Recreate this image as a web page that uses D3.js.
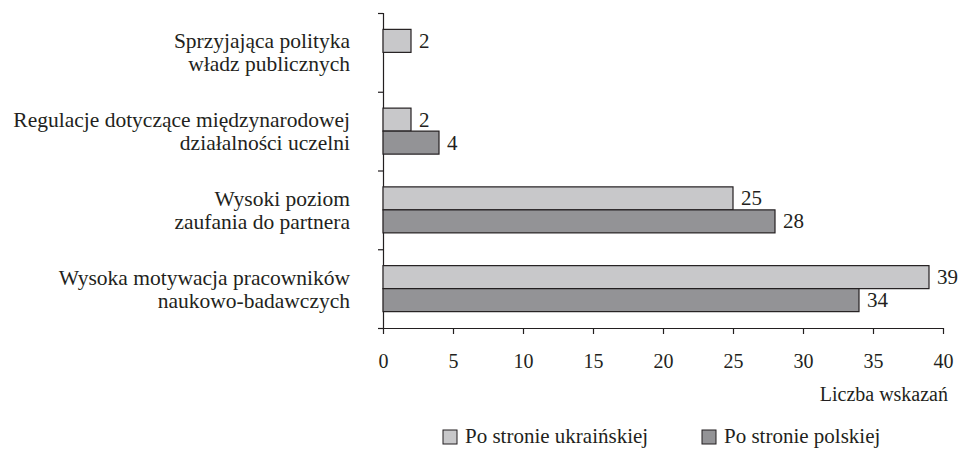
<!DOCTYPE html>
<html>
<head>
<meta charset="utf-8">
<script src="https://cdn.jsdelivr.net/npm/d3@7"></script>
<style>
  body { margin: 0; background: #fff; }
</style>
</head>
<body>
<svg id="canvas"></svg>
<script>
// data
let categories = [
  ['Sprzyjająca polityka', 'władz publicznych'],
  ['Regulacje dotyczące międzynarodowej', 'działalności uczelni'],
  ['Wysoki poziom', 'zaufania do partnera'],
  ['Wysoka motywacja pracowników', 'naukowo-badawczych']
]
let seriesNames = ['Po stronie ukraińskiej', 'Po stronie polskiej']
let ukrValues = [2, 2, 25, 39]
let polValues = [0, 4, 28, 34]
let xTicks = [0, 5, 10, 15, 20, 25, 30, 35, 40]
let colors = ['#c8c8ca', '#939396']

//dimensions
let width = 963
let height = 450
let plotLeft = 383
let plotRight = 943
let plotTop = 13
let plotBottom = 328
let barH = 23
let fontFam = "'Liberation Serif', 'Times New Roman', serif"
let ink = '#231f20'

let svg = d3.select('#canvas')
            .attr('width', width)
            .attr('height', height)

let xScale = d3.scaleLinear().domain([0, 40]).range([plotLeft, plotRight])
let yScale = d3.scaleBand().domain(d3.range(categories.length)).range([plotTop, plotBottom])
let subScale = d3.scaleBand().domain([0, 1]).range([-barH, barH])
let yEdge = d3.scaleLinear().domain([0, categories.length]).range([plotTop, plotBottom])

// y axis: line + ticks at category boundaries
let yAxis = svg.append('g')
    .attr('transform', 'translate(' + plotLeft + ',0)')
    .call(d3.axisLeft(yEdge).ticks(categories.length).tickSize(5).tickFormat('').tickSizeOuter(5))
yAxis.selectAll('path, line').attr('stroke', ink).attr('stroke-width', 1.2)

// x axis
let xAxis = svg.append('g')
    .attr('transform', 'translate(0,' + plotBottom + ')')
    .call(d3.axisBottom(xScale).tickValues(xTicks).tickSize(6).tickSizeOuter(0).tickPadding(20))
xAxis.attr('font-family', null).attr('font-size', null)
xAxis.selectAll('path, line').attr('stroke', ink).attr('stroke-width', 1.2)
xAxis.selectAll('text')
    .attr('font-family', fontFam)
    .attr('font-size', 20)
    .attr('fill', ink)

svg.append('text')
    .attr('x', 948)
    .attr('y', 401)
    .attr('text-anchor', 'end')
    .attr('font-family', fontFam)
    .attr('font-size', 20)
    .attr('fill', ink)
    .text('Liczba wskazań')

// category labels
let catLabel = svg.selectAll('.cat')
    .data(categories)
    .enter()
    .append('text')
    .attr('class', 'cat')
    .attr('text-anchor', 'end')
    .attr('font-family', fontFam)
    .attr('font-size', 21.5)
    .attr('fill', ink)

catLabel.selectAll('tspan')
    .data((d, i) => d.map(line => ({ line: line, i: i })))
    .enter()
    .append('tspan')
    .attr('x', 350)
    .attr('y', (d, j) => yScale(d.i) + yScale.bandwidth() / 2 - 4 + j * 23)
    .text(d => d.line)

// bars
let series = [ukrValues, polValues]
series.forEach((values, s) => {
    let items = values.map((v, i) => ({ v: v, i: i })).filter(d => d.v > 0)
    let g = svg.append('g')

    g.selectAll('rect')
        .data(items)
        .enter()
        .append('rect')
        .attr('x', xScale(0))
        .attr('y', d => yScale(d.i) + yScale.bandwidth() / 2 + subScale(s))
        .attr('width', d => xScale(d.v) - xScale(0))
        .attr('height', subScale.bandwidth())
        .attr('fill', colors[s])
        .attr('stroke', ink)
        .attr('stroke-width', 1.2)

    g.selectAll('text')
        .data(items)
        .enter()
        .append('text')
        .attr('x', d => xScale(d.v) + 8)
        .attr('y', d => yScale(d.i) + yScale.bandwidth() / 2 + subScale(s) + subScale.bandwidth() / 2 + 7)
        .attr('font-family', fontFam)
        .attr('font-size', 21)
        .attr('fill', ink)
        .text(d => d.v)
})

// legend
let legendX = [443, 702]
let legend = svg.selectAll('.legend')
    .data(seriesNames)
    .enter()
    .append('g')
    .attr('class', 'legend')
    .attr('transform', (d, i) => 'translate(' + legendX[i] + ',430)')

legend.append('rect')
    .attr('width', 14)
    .attr('height', 14)
    .attr('fill', (d, i) => colors[i])
    .attr('stroke', ink)
    .attr('stroke-width', 1)

legend.append('text')
    .attr('x', 22)
    .attr('y', 13)
    .attr('font-family', fontFam)
    .attr('font-size', 21)
    .attr('fill', ink)
    .text(d => d)
</script>
</body>
</html>
